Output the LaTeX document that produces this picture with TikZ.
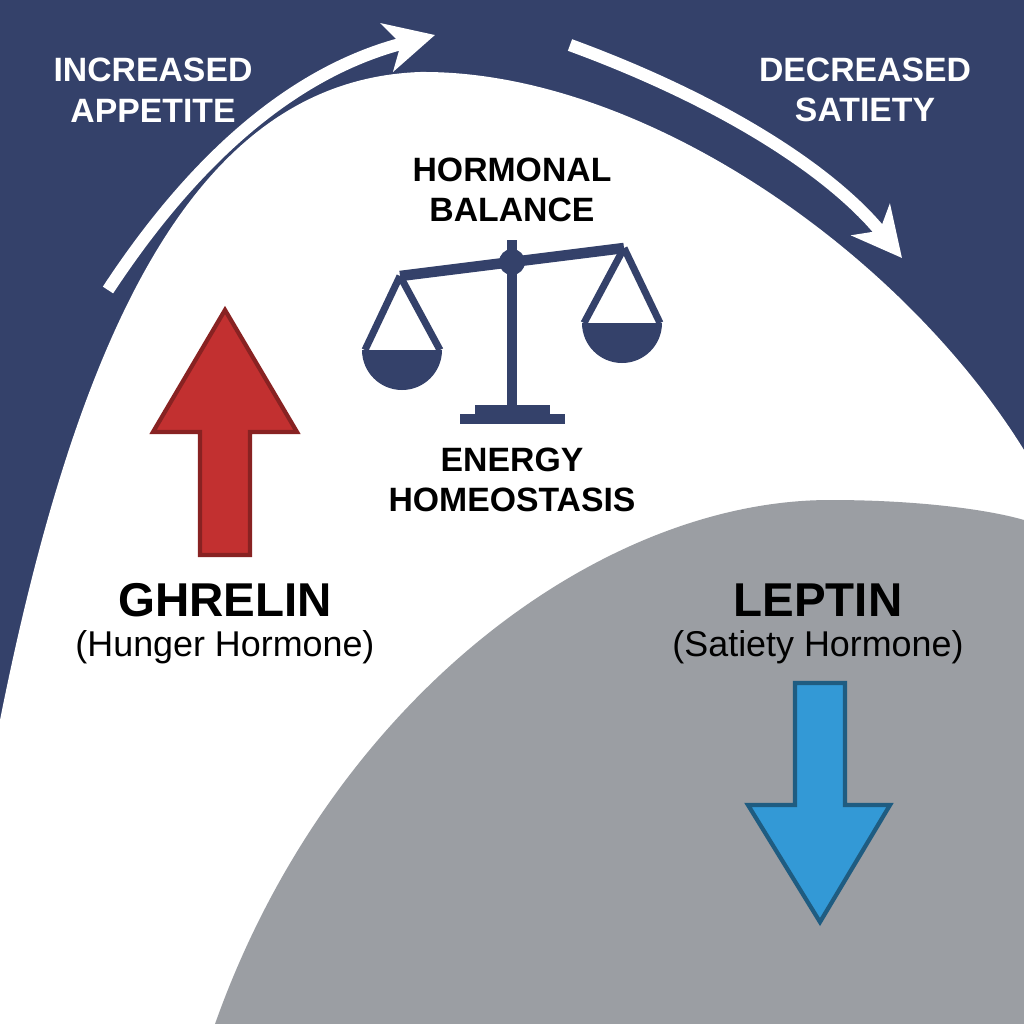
\documentclass[tikz,border=0pt]{standalone}
\usepackage{fontspec}
\setmainfont{Liberation Sans}
\usetikzlibrary{arrows.meta}
\definecolor{navy}{HTML}{34416A}
\definecolor{greyb}{HTML}{9B9EA3}
\definecolor{redA}{HTML}{C23030}
\definecolor{blueA}{HTML}{3399D6}
\begin{document}
\begin{tikzpicture}[x=0.01cm,y=-0.01cm,
  lbl/.style={font=\bfseries\fontsize{9.6}{11.5}\selectfont,align=center,inner sep=0pt},
  big/.style={font=\bfseries\fontsize{13.5}{16}\selectfont,inner sep=0pt},
  sub/.style={font=\fontsize{10.2}{12}\selectfont,inner sep=0pt},
  flow/.style={white,line width=3.5pt,-{Stealth[length=14pt,width=14pt,inset=4pt]}},
  sc/.style={navy,line width=3pt}]
\fill[navy] (0,0) rectangle (1024,1024);
\useasboundingbox (0,0) rectangle (1024,1024);
\fill[white] (0,720) .. controls (80,320) and (200,80) .. (420,72)
  .. controls (640,70) and (900,250) .. (1024,450) -- (1024,1024) -- (0,1024) -- cycle;
\fill[greyb] (215,1024) .. controls (330,700) and (600,500) .. (830,500)
  .. controls (920,500) and (990,510) .. (1024,520) -- (1024,1024) -- cycle;
% flow arrows
\coordinate (a1s) at (108,290); \coordinate (a1e) at (435,35);
\coordinate (a2s) at (570,45); \coordinate (a2e) at (902,258);
\draw[flow] (a1s) .. controls (200,150) and (300,70) .. (a1e);
\draw[flow] (a2s) .. controls (720,100) and (830,170) .. (a2e);
\node[lbl,white] (inc) at (153,90) {INCREASED\\APPETITE};
\node[lbl,white] (dec) at (865,90) {DECREASED\\SATIETY};
\node[lbl] (hb) at (512,190) {HORMONAL\\BALANCE};
\node[lbl] (eh) at (512,480) {ENERGY\\HOMEOSTASIS};
% scale
\draw[sc] (512,240) -- (512,410);
\draw[sc] (400,276) -- (624,248);
\fill[navy] (512,262) circle (13);
\draw[sc,line width=2pt] (400,276) -- (365,350) (400,276) -- (440,350);
\draw[sc,line width=2pt] (624,248) -- (584,323) (624,248) -- (660,323);
\fill[navy] (362,350) arc (180:360:40 and -40) -- cycle;
\fill[navy] (582,323) arc (180:360:40 and -40) -- cycle;
\draw[sc] (475,410) -- (550,410);
\draw[sc] (460,419) -- (565,419);
% red arrow
\draw[redA!70!black,fill=redA,line width=1.2pt] (200,555) -- (200,432) -- (153,432) -- (225,310) -- (297,432) -- (250,432) -- (250,555) -- cycle;
\draw[blueA!60!black,fill=blueA,line width=1.2pt] (795,683) -- (795,805) -- (748,805) -- (820,922) -- (890,805) -- (845,805) -- (845,683) -- cycle;
\node[big] (gh) at (225,600) {GHRELIN};
\node[sub] (ghs) at (225,647) {(Hunger Hormone)};
\node[big] (le) at (818,600) {LEPTIN};
\node[sub] (les) at (818,647) {(Satiety Hormone)};
\end{tikzpicture}
\end{document}
